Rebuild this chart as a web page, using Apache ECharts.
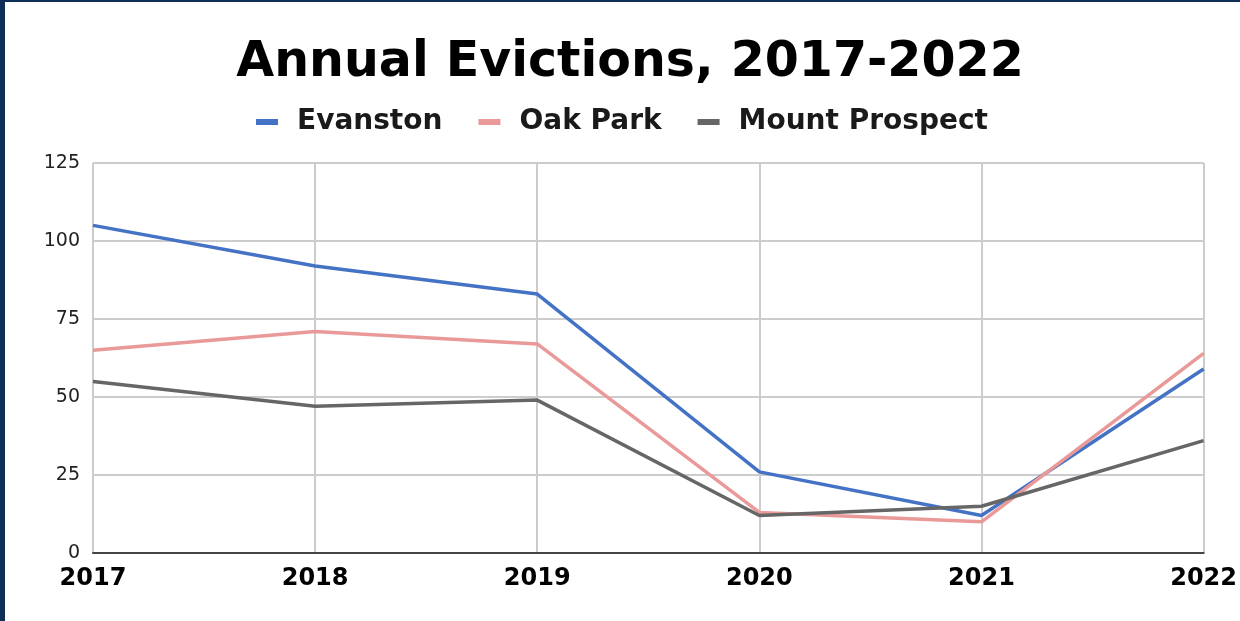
<!DOCTYPE html>
<html>
<head>
<meta charset="utf-8">
<script src="https://cdn.jsdelivr.net/npm/echarts@6/dist/echarts.min.js"></script>
<style>
  html, body { margin: 0; padding: 0; background: #ffffff; }
  #frame { position: absolute; left: 0; top: 0; width: 1240px; height: 621px; box-sizing: border-box; border-left: 5px solid #0f2e55; border-top: 2px solid #0f2e55; }
  #chart { position: absolute; left: 0; top: 0; width: 1240px; height: 621px; }
</style>
</head>
<body>
<div id="frame"></div>
<div id="chart"></div>
<script>
const categories = ['2017', '2018', '2019', '2020', '2021', '2022'];
const evanston = [105, 92, 83, 26, 12, 59];
const oakPark = [65, 71, 67, 13, 10, 64];
const mountProspect = [55, 47, 49, 12, 15, 36];
const yTicks = [0, 25, 50, 75, 100, 125];

const FONT = '"DejaVu Sans", Verdana, sans-serif';
const chart = echarts.init(document.getElementById('chart'), null, { renderer: 'canvas' });
chart.setOption({
  backgroundColor: 'transparent',
  animation: false,
  title: {
    text: 'Annual Evictions, 2017-2022',
    left: 625, textAlign: 'center',
    top: 34,
    textStyle: { fontFamily: FONT, fontSize: 49, fontWeight: 'bold', color: '#000000' }
  },
  legend: {
    top: 103, left: 251, width: 950, orient: 'horizontal',
    icon: 'rect', itemWidth: 22, itemHeight: 6, itemGap: 36,
    textStyle: { fontFamily: FONT, fontSize: 28, fontWeight: 'bold', color: '#1a1a1a', padding: [0, 0, 0, 14] },
    data: ['Evanston', 'Oak Park', 'Mount Prospect']
  },
  grid: { left: 93, right: 35, top: 163, bottom: 68, containLabel: false },
  xAxis: {
    type: 'category', data: categories, boundaryGap: false,
    axisLine: { show: true, lineStyle: { color: '#444444', width: 2 } },
    axisTick: { show: false },
    axisLabel: { fontFamily: FONT, fontSize: 24, fontWeight: 'bold', color: '#000000', margin: 14 },
    splitLine: { show: true, lineStyle: { color: '#cccccc', width: 2 } }
  },
  yAxis: {
    type: 'value', min: 0, max: 125, interval: 25,
    axisLine: { show: false }, axisTick: { show: false },
    axisLabel: { fontFamily: FONT, fontSize: 19, color: '#222222', margin: 13,
      formatter: v => yTicks.includes(v) ? String(v) : '' },
    splitLine: { show: true, lineStyle: { color: '#cccccc', width: 2 } }
  },
  series: [
    { name: 'Evanston', type: 'line', data: evanston, symbol: 'none',
      lineStyle: { color: '#4472c4', width: 3.5 }, itemStyle: { color: '#4472c4' } },
    { name: 'Oak Park', type: 'line', data: oakPark, symbol: 'none',
      lineStyle: { color: '#ea9999', width: 3.5 }, itemStyle: { color: '#ea9999' } },
    { name: 'Mount Prospect', type: 'line', data: mountProspect, symbol: 'none',
      lineStyle: { color: '#666666', width: 3.5 }, itemStyle: { color: '#666666' } }
  ]
});
</script>
</body>
</html>
